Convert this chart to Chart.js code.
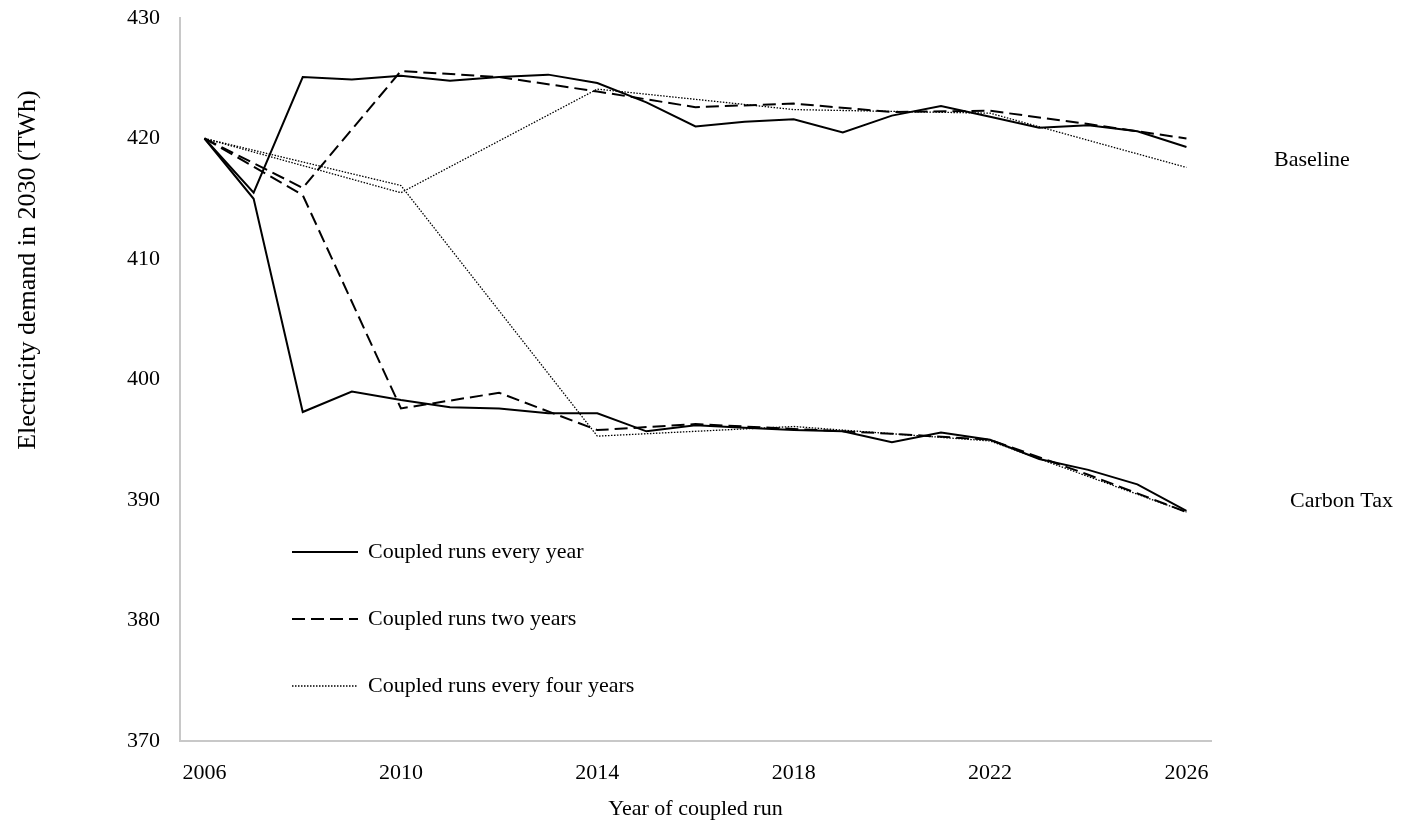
<!DOCTYPE html>
<html>
<head>
<meta charset="utf-8">
<script src="https://cdn.jsdelivr.net/npm/chart.js@4"></script>
<style>
  html, body { margin: 0; padding: 0; background: #fff; }
  #wrap { width: 1424px; height: 823px; }
</style>
</head>
<body>
<div id="wrap"><canvas id="chart" width="1424" height="823"></canvas></div>
<script>
const years = ["2006", "2007", "2008", "2009", "2010", "2011", "2012", "2013", "2014", "2015", "2016",
  "2017", "2018", "2019", "2020", "2021", "2022", "2023", "2024", "2025", "2026"]

// baseline scenario
const baseEvery = [420.0, 415.5, 425.1, 424.9, 425.2, 424.8, 425.1, 425.3, 424.6, 423.0, 421.0,
  421.4, 421.6, 420.5, 421.9, 422.7, 421.8, 420.9, 421.1, 420.6, 419.3]
const baseTwo = [420.0, null, 415.9, null, 425.6, null, 425.1, null, 423.9, null, 422.6,
  null, 422.9, null, 422.2, null, 422.3, null, 421.2, null, 420.0]
const baseFour = [420.0, null, null, null, 415.5, null, null, null, 424.1, null, null,
  null, 422.4, null, null, null, 422.1, null, null, null, 417.6]

// carbon tax scenario
const taxEvery = [420.0, 415.0, 397.3, 399.0, 398.3, 397.7, 397.6, 397.2, 397.2, 395.7, 396.2,
  396.0, 395.8, 395.7, 394.8, 395.6, 395.0, 393.4, 392.5, 391.3, 389.1]
const taxTwo = [420.0, null, 415.3, null, 397.6, null, 398.9, null, 395.8, null, 396.3,
  null, 395.9, null, 395.5, null, 395.0, null, 392.1, null, 389.0]
const taxFour = [420.0, null, null, null, 416.1, null, null, null, 395.3, null, null,
  null, 396.1, null, null, null, 394.9, null, null, null, 389.0]

const yTicks = [370, 380, 390, 400, 410, 420, 430]

const legendNames = ["Coupled runs every year", "Coupled runs two years", "Coupled runs every four years"]
const sideNames = ["Baseline", "Carbon Tax"]
const yTitle = "Electricity demand in 2030 (TWh)"

const FONT = "'Liberation Serif', 'Times New Roman', serif"
const solid = [], dashed = [13, 6], dotted = [1.5, 1.5]

function line(data, dash, width) {
  return {
    data: data,
    borderColor: "#000",
    borderWidth: width,
    borderDash: dash,
    pointRadius: 0,
    tension: 0,
    spanGaps: true,
    fill: false
  }
}

// legend inside the plot, scenario names on the right, y title
const annotate = {
  id: "annotate",
  afterDraw(chart) {
    const ctx = chart.ctx
    const area = chart.chartArea
    const styles = [[solid, 2], [dashed, 2], [dotted, 1.3]]
    ctx.save()
    ctx.font = "22px " + FONT
    ctx.fillStyle = "#000"
    ctx.textBaseline = "middle"
    ctx.textAlign = "left"
    legendNames.forEach((name, i) => {
      const y = 552 + i * 67
      ctx.beginPath()
      ctx.strokeStyle = "#000"
      ctx.lineWidth = styles[i][1]
      ctx.setLineDash(styles[i][0])
      ctx.moveTo(area.left + 112, y)
      ctx.lineTo(area.left + 178, y)
      ctx.stroke()
      ctx.fillText(name, area.left + 188, y)
    })
    ctx.setLineDash([])
    ctx.fillText(sideNames[0], area.right + 63, 160)
    ctx.fillText(sideNames[1], area.right + 79, 501)

    // y axis title, rotated
    ctx.translate(28, 270)
    ctx.rotate(-Math.PI / 2)
    ctx.textAlign = "center"
    ctx.font = "26px " + FONT
    ctx.fillText(yTitle, 0, 0)
    ctx.restore()
  }
}

const config = {
  type: "line",
  data: {
    labels: years,
    datasets: [
      line(baseEvery, solid, 2),
      line(baseTwo, dashed, 2),
      line(baseFour, dotted, 1.3),
      line(taxEvery, solid, 2),
      line(taxTwo, dashed, 2),
      line(taxFour, dotted, 1.3)
    ]
  },
  options: {
    responsive: false,
    animation: false,
    layout: { padding: { top: 18, right: 213, bottom: 0, left: 0 } },
    plugins: {
      legend: { display: false },
      tooltip: { enabled: false }
    },
    scales: {
      x: {
        type: "category",
        offset: true,
        grid: { display: false, drawTicks: false },
        border: { display: true, color: "#c8c8c8", width: 2 },
        afterFit: (scale) => { scale.height = 82 },
        ticks: {
          autoSkip: false,
          maxRotation: 0,
          padding: 19,
          color: "#000",
          font: { family: FONT, size: 22 },
          callback: function (value, index) {
            return index % 4 === 0 ? this.getLabelForValue(value) : null
          }
        },
        title: {
          display: true,
          text: "Year of coupled run",
          color: "#000",
          font: { family: FONT, size: 22 },
          padding: { top: 0, bottom: 1 }
        }
      },
      y: {
        min: 370,
        max: 430,
        afterFit: (scale) => {
          scale.width = 180
          scale.paddingTop = 0
          scale.paddingBottom = 0
        },
        afterBuildTicks: (scale) => { scale.ticks = yTicks.map(v => ({ value: v })) },
        grid: { display: false, drawTicks: false },
        border: { display: true, color: "#c8c8c8", width: 2 },
        ticks: {
          padding: 20,
          color: "#000",
          font: { family: FONT, size: 22 }
        }
      }
    }
  },
  plugins: [annotate]
}

const demandChart = new Chart(document.getElementById("chart"), config)
</script>
</body>
</html>
